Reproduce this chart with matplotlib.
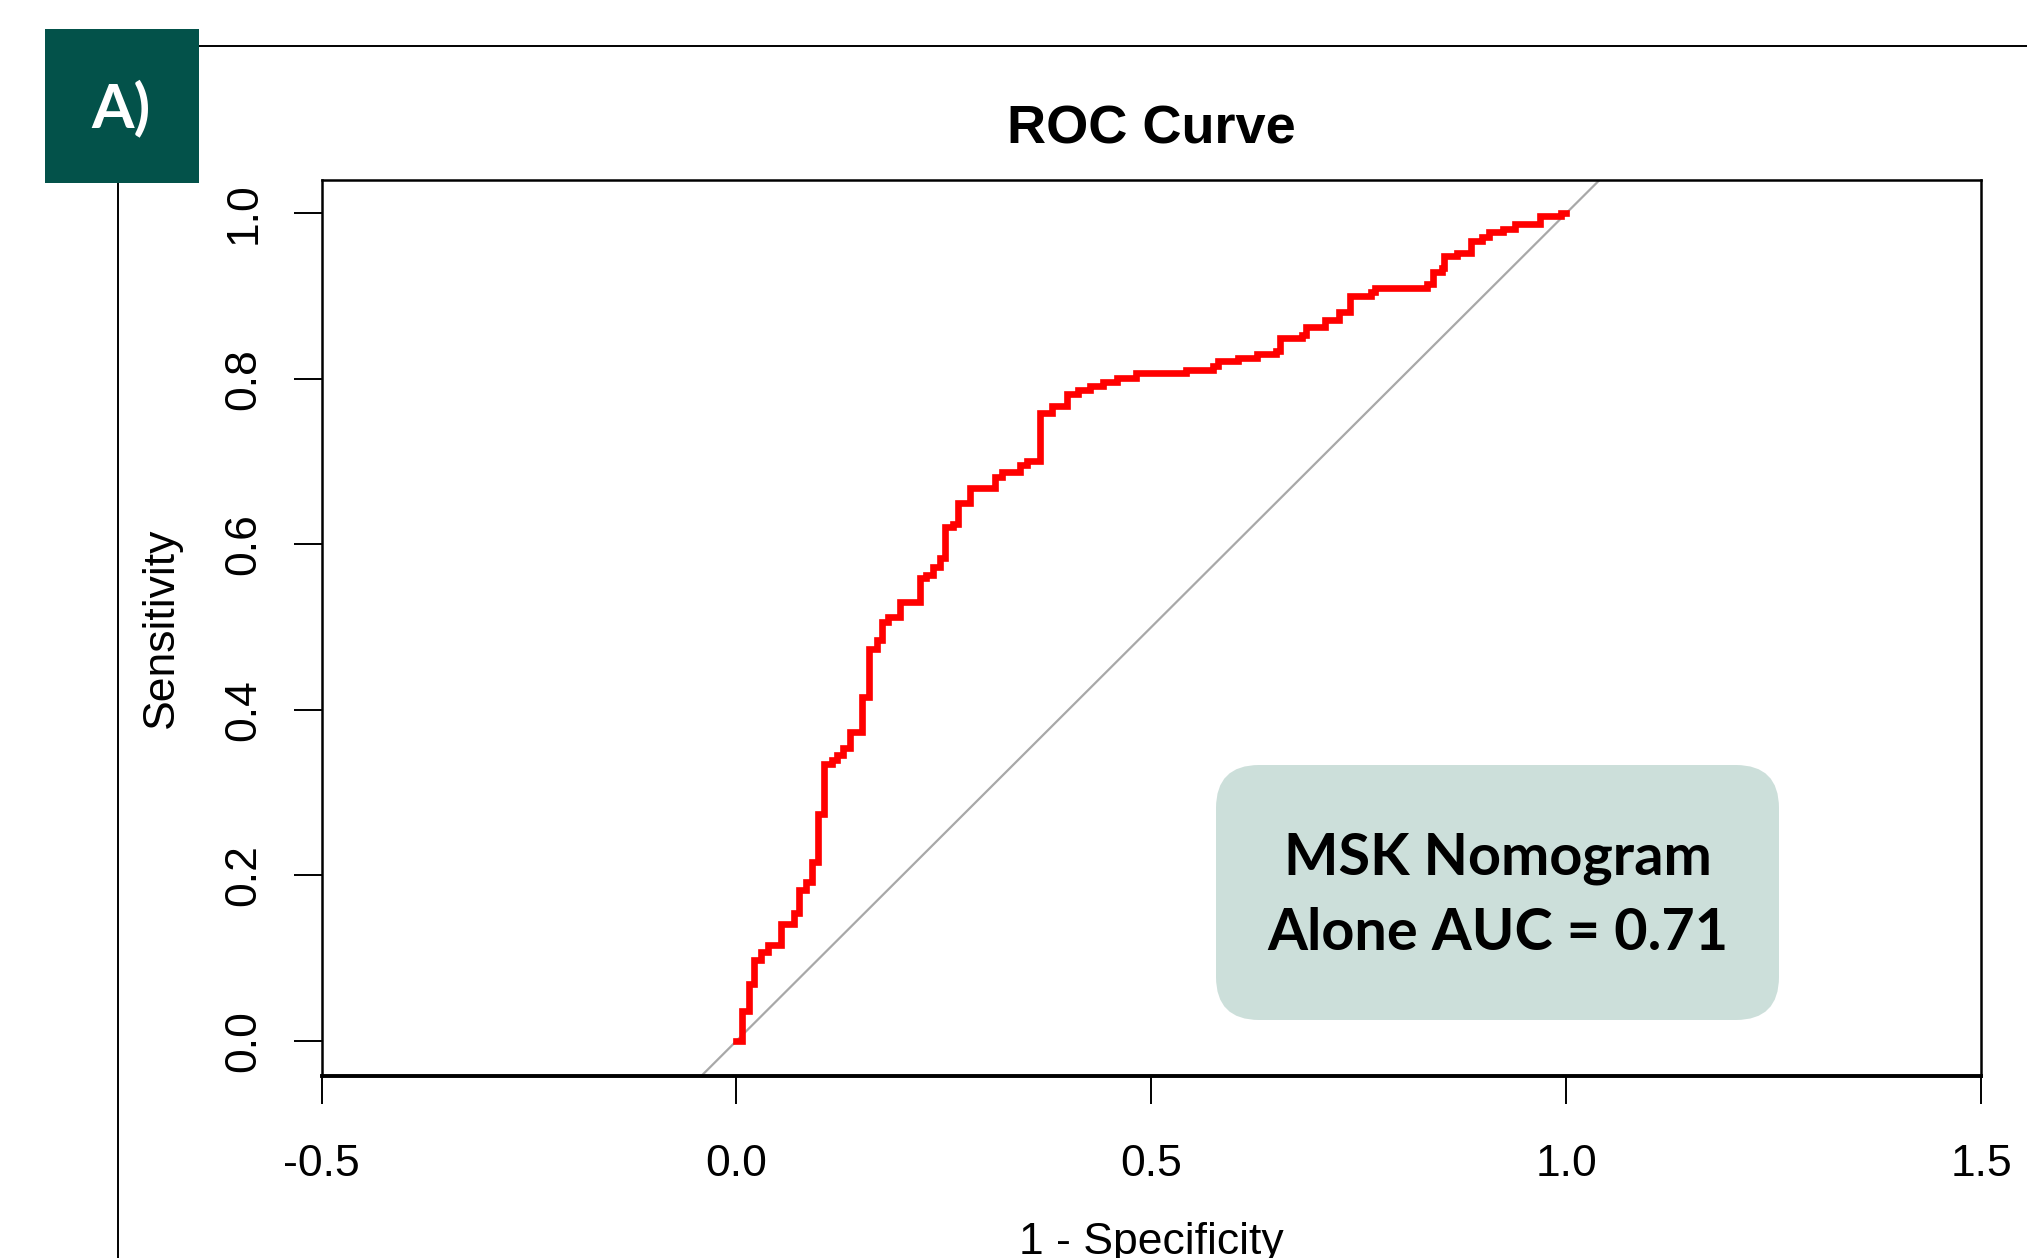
import matplotlib
matplotlib.use("Agg")
import matplotlib.pyplot as plt
from matplotlib.lines import Line2D
from matplotlib.patches import Rectangle, FancyBboxPatch

plt.rcParams["font.family"] = ["Liberation Sans", "DejaVu Sans"]

# ROC step corners: (1 - specificity, sensitivity)
fpr = [0.0, 0.007, 0.0155, 0.0215, 0.030, 0.0376, 0.0536, 0.0693, 0.0757,
       0.0838, 0.0914, 0.0982, 0.1058, 0.1147, 0.1215, 0.1287, 0.1368,
       0.152, 0.160, 0.169, 0.175, 0.183, 0.197, 0.221, 0.229, 0.237,
       0.245, 0.251, 0.261, 0.267, 0.2815, 0.312, 0.320, 0.342, 0.350,
       0.366, 0.380, 0.398, 0.412, 0.426, 0.442, 0.4585, 0.482, 0.542,
       0.574, 0.581, 0.604, 0.627, 0.650, 0.655, 0.682, 0.687, 0.710,
       0.726, 0.740, 0.765, 0.770, 0.832, 0.839, 0.851, 0.853, 0.869,
       0.885, 0.899, 0.907, 0.924, 0.938, 0.968, 0.994, 1.0]
tpr = [0.0, 0.036, 0.069, 0.098, 0.107, 0.116, 0.141, 0.155, 0.183,
       0.192, 0.216, 0.274, 0.335, 0.339, 0.345, 0.354, 0.373,
       0.416, 0.474, 0.484, 0.506, 0.512, 0.530, 0.559, 0.563, 0.573,
       0.583, 0.621, 0.625, 0.650, 0.668, 0.682, 0.688, 0.696, 0.701,
       0.759, 0.767, 0.782, 0.786, 0.791, 0.7965, 0.8005, 0.807, 0.811,
       0.815, 0.821, 0.825, 0.830, 0.834, 0.849, 0.853, 0.863, 0.871,
       0.881, 0.900, 0.905, 0.910, 0.915, 0.929, 0.934, 0.948, 0.952,
       0.967, 0.971, 0.977, 0.981, 0.987, 0.997, 1.0, 1.0]

x_ticks = [-0.5, 0.0, 0.5, 1.0, 1.5]
x_tick_labels = ["-0.5", "0.0", "0.5", "1.0", "1.5"]
y_ticks = [0.0, 0.2, 0.4, 0.6, 0.8, 1.0]
y_tick_labels = ["0.0", "0.2", "0.4", "0.6", "0.8", "1.0"]

title = "ROC Curve"
x_label = "1 - Specificity"
y_label = "Sensitivity"
auc_text = "MSK Nomogram\nAlone AUC = 0.71"
panel_text = "A)"

W, H = 2027, 1258


def fx(px):
    return px / W


def fy(py):
    return 1 - py / H


fig = plt.figure(figsize=(W / 100, H / 100), dpi=100)

# panel frame lines + "A)" badge
fig.add_artist(Line2D([fx(118), fx(118)], [fy(183), 0], color="black", lw=1.4))
fig.add_artist(Line2D([fx(150), 1], [fy(46), fy(46)], color="black", lw=1.4))
fig.add_artist(Rectangle((fx(45), fy(183)), fx(154), 154 / H,
                         facecolor="#03524A", edgecolor="none", zorder=5))
fig.text(fx(121), fy(108), panel_text, color="white", fontsize=44,
         fontweight="bold", family=["Lato", "DejaVu Sans"],
         ha="center", va="center", zorder=6)

ax_w, ax_h = 1981 - 321.5, 1075.5 - 180.3
ax = fig.add_axes([fx(321.5), fy(1075.5), ax_w / W, ax_h / H])

ax.axline((0, 0), (1, 1), color="#A8A8A8", lw=1.6, zorder=2)
ax.step(fpr, tpr, where="post", color="#FF0000", lw=4.8, zorder=3,
        solid_joinstyle="miter")

ax.set_xlim(-0.5, 1.5)
ax.set_ylim(-0.0417, 1.0399)

ax.set_xticks(x_ticks)
ax.set_xticklabels(x_tick_labels)
ax.set_yticks(y_ticks)
ax.set_yticklabels(y_tick_labels, rotation=90, va="center")
ax.tick_params(axis="both", length=20, width=1.4, labelsize=32, color="black")
ax.tick_params(axis="x", pad=29)
ax.tick_params(axis="y", pad=21)

for side in ["left", "right", "top"]:
    ax.spines[side].set_linewidth(1.8)
ax.spines["bottom"].set_linewidth(2.8)

ax.set_title(title, fontsize=39, fontweight="bold", y=1.057, pad=0, va="center")
ax.set_xlabel(x_label, fontsize=32, va="center")
ax.xaxis.set_label_coords(0.5, -0.186)
ax.set_ylabel(y_label, fontsize=32, va="center")
ax.yaxis.set_label_coords(-0.0965, 0.5)

# AUC annotation box (axes fraction, rounded corners kept circular)
box_x0, box_x1 = (1216 - 321.5) / ax_w, (1779 - 321.5) / ax_w
box_y0, box_y1 = (1075.5 - 1020) / ax_h, (1075.5 - 765) / ax_h
ax.add_patch(FancyBboxPatch((box_x0, box_y0), box_x1 - box_x0, box_y1 - box_y0,
                            boxstyle="round,pad=0,rounding_size=0.026",
                            mutation_aspect=ax_w / ax_h,
                            transform=ax.transAxes, facecolor="#CCDFDA",
                            edgecolor="none", zorder=4))
ax.text((box_x0 + box_x1) / 2, 0.2005, auc_text, transform=ax.transAxes,
        ha="center", va="center", fontsize=41.5, fontweight="bold",
        linespacing=1.5, family=["Lato", "DejaVu Sans"], zorder=5)

fig.savefig("out.png", dpi=100)
